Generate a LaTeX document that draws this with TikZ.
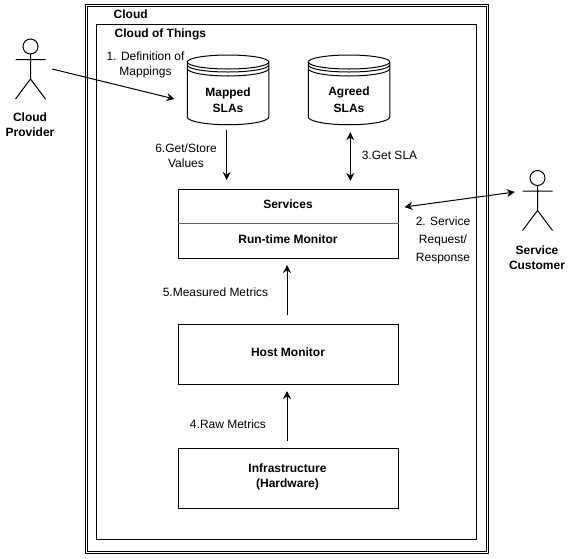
\documentclass[tikz,border=0pt]{standalone}
\usepackage{fontspec}
\setmainfont{Liberation Sans}
\usetikzlibrary{arrows.meta}
\tikzset{
  frame/.style={draw=black,line width=1pt,fill=none},
  boxnode/.style={draw=black,line width=1pt,minimum width=220pt,inner sep=0pt},
  holder/.style={draw=none,inner sep=0pt},
  lab/.style={align=center,inner sep=0pt,font=\fontsize{12}{15}\selectfont},
  blab/.style={align=center,inner sep=0pt,font=\fontsize{12}{15}\selectfont\bfseries},
  shapeline/.style={draw=black,line width=1pt},
  conn/.style={draw=black,line width=1pt},
  onetip/.style={conn,-{Stealth[length=8pt,width=8pt]}},
  twotip/.style={conn,{Stealth[length=8pt,width=8pt]}-{Stealth[length=8pt,width=8pt]}}
}
\newcommand{\drawcyl}[1]{%
  \begin{scope}[shift={(#1,0)}]
    \draw[shapeline] (0,62) arc[start angle=180,end angle=0,x radius=40.75,y radius=7]
      arc[start angle=0,end angle=-180,x radius=40.75,y radius=7] -- cycle;
    \draw[shapeline] (0,65) arc[start angle=180,end angle=0,x radius=40.75,y radius=7];
    \draw[shapeline] (0,68.5) arc[start angle=180,end angle=0,x radius=40.75,y radius=7.5];
    \draw[shapeline] (0,62) -- (0,117) arc[start angle=180,end angle=0,x radius=40.75,y radius=7.75] -- (81.5,62);
  \end{scope}}
\newcommand{\drawactor}[2]{%
  \begin{scope}[shift={(#1,#2)}]
    \draw[shapeline] (0,0) circle[radius=7.5];
    \draw[shapeline] (0,7.5) -- (0,32.5) (-15,13) -- (15,13) (-15,52.5) -- (0,32.5) -- (15,52.5);
  \end{scope}}
\begin{document}
\begin{tikzpicture}[x=1pt,y=-1pt]
\useasboundingbox (0,0) rectangle (583,558);
\fill[white] (0,0) rectangle (583,558);
% frames
\draw[frame] (85.5,4.5) rectangle (488.5,553.5);
\draw[frame] (87.5,6.5) rectangle (486.5,551.5);
\draw[frame] (96.5,24.5) rectangle (476.5,539.5);
\node[blab,anchor=west] (cloudtxt) at (113.5,14) {Cloud};
\node[blab,anchor=west] (cotxt) at (114.5,34) {Cloud of Things};
% cylinders
\drawcyl{187.25}
\drawcyl{308.25}
\node[holder,minimum width=81.5pt,minimum height=70pt] (mapped) at (228,90) {};
\node[holder,minimum width=81.5pt,minimum height=70pt] (agreed) at (349,90) {};
\node[blab,font=\fontsize{12}{16.5}\selectfont\bfseries] (mappedtxt) at (228,100) {Mapped\\SLAs};
\node[blab,font=\fontsize{12}{16.5}\selectfont\bfseries] (agreedtxt) at (349,99.5) {Agreed\\SLAs};
% boxes
\node[boxnode,minimum height=69pt] (services) at (288,224) {};
\draw[draw=black!60,line width=.7pt] ([yshift=0.5pt]services.west) -- ([yshift=0.5pt]services.east);
\node[blab] (servicestxt) at (288,204.5) {Services};
\node[blab] (runtimetxt) at (288,239) {Run-time Monitor};
\node[boxnode,minimum height=60pt] (host) at (288,354) {};
\node[blab] (hosttxt) at (288,352) {Host Monitor};
\node[boxnode,minimum height=60pt] (infra) at (288,478) {};
\node[blab] (infratxt) at (287.5,476.5) {Infrastructure\\(Hardware)};
% actors
\drawactor{30.5}{46.5}
\drawactor{537.5}{178}
\node[holder,minimum width=30pt,minimum height=54pt] (provider) at (30.5,72) {};
\node[holder,minimum width=30pt,minimum height=59pt] (customer) at (537.5,200.5) {};
\node[blab] (providertxt) at (30,124.5) {Cloud\\Provider};
\node[blab] (customertxt) at (537,257.5) {Service\\Customer};
% labels
\node[lab] (l1) at (145.5,64.5) {1. Definition of\\Mappings};
\node[lab] (l6) at (186,155.5) {6.Get/Store\\Values};
\node[lab] (l3) at (389.5,155) {3.Get SLA};
\node[lab,font=\fontsize{12}{18}\selectfont] (l2) at (443,240) {2. Service\\Request/\\Response};
\node[lab] (l5) at (215.5,292) {5.Measured Metrics};
\node[lab] (l4) at (228,424) {4.Raw Metrics};
% connectors
\draw[onetip] ([shift={(6.5,-3)}]provider.east) -- ([shift={(-12.5,9)}]mapped.west);
\draw[onetip,shorten <=5pt,shorten >=9pt] ([xshift=-1.3pt]mapped.south) -- ([xshift=-1.3pt]mapped.south |- services.north);
\draw[twotip,shorten <=7pt,shorten >=8pt] ([xshift=1.3pt]agreed.south) -- ([xshift=1.3pt]agreed.south |- services.north);
\draw[twotip] ([shift={(6,-17)}]services.east) -- ([shift={(-7.5,-8.5)}]customer.west);
\draw[onetip,shorten <=9pt] (host.north -| 287,0) -- (287,265);
\draw[onetip] ([yshift=7pt]infra.north -| 287,0) -- (287,391);
\end{tikzpicture}
\end{document}
